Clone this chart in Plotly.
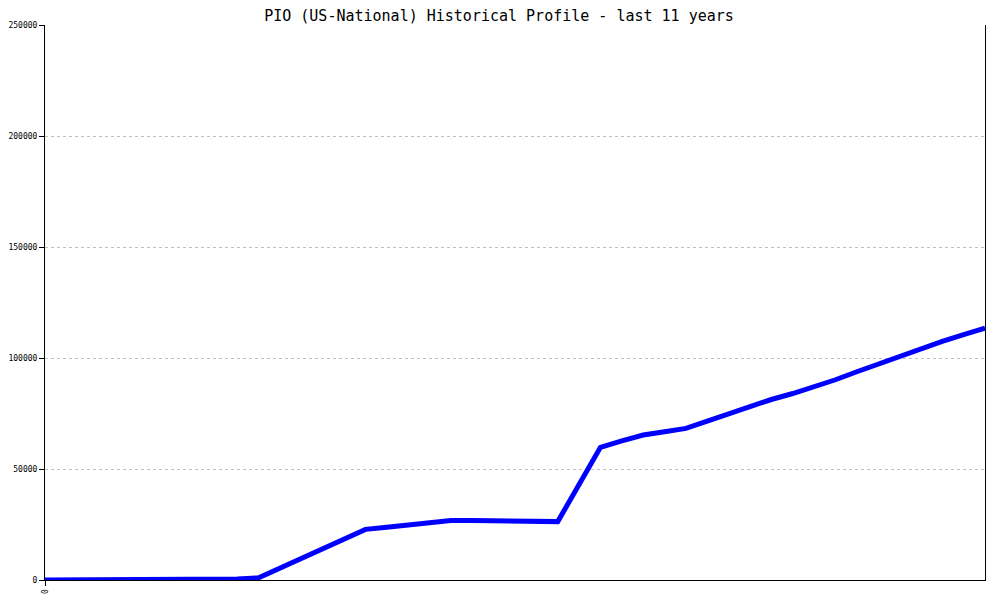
import plotly.graph_objects as go

# quarter index over the last 11 years
quarters = list(range(45))
users = [0, 0, 0, 0, 0, 0, 0, 0, 100, 500,
         1000, 5400, 9800, 14100, 18500, 22800, 23800, 24800, 25800, 26800,
         26800, 26700, 26300, 26300, 26300, 43000, 59800, 62700, 65300, 66800,
         68300, 71600, 75000, 78300, 81300, 84000, 86900, 90200, 93800, 97300,
         100800, 104200, 107500, 110500, 113500]
y_ticks = [0, 50000, 100000, 150000, 200000, 250000]
x_tick_vals = [0]
x_tick_text = ["0"]

fig = go.Figure()
fig.add_trace(go.Scatter(x=quarters, y=users, mode="lines",
                         line=dict(color="#0000ff", width=5), hoverinfo="x+y"))

mono = "DejaVu Sans Mono, Liberation Mono, monospace"
fig.update_layout(
    width=1000, height=600,
    margin=dict(l=37, r=23, t=17, b=28, autoexpand=False),
    paper_bgcolor="white", plot_bgcolor="white",
    showlegend=False,
    title=dict(text="PIO (US-National) Historical Profile - last 11 years",
               x=0.491, xanchor="center", xref="container",
               y=0.9875, yanchor="middle", yref="container",
               font=dict(family=mono, size=15, color="black")),
    xaxis=dict(range=[0, 44], tickvals=x_tick_vals, ticktext=x_tick_text,
               tickangle=-90, ticks="outside", ticklen=5, tickcolor="black",
               showline=True, linecolor="black", linewidth=1,
               showgrid=False, zeroline=False, automargin=False,
               tickfont=dict(family=mono, size=8, color="black")),
    yaxis=dict(range=[0, 250000], tickvals=y_ticks,
               ticktext=[str(v) for v in y_ticks],
               ticks="outside", ticklen=5, tickcolor="black",
               showline=True, mirror=True, linecolor="black", linewidth=1,
               showgrid=True, gridcolor="#c0c0c0", griddash="dot", gridwidth=1,
               zeroline=False, automargin=False,
               tickfont=dict(family=mono, size=8, color="black")),
)
fig.write_html("out.html")
